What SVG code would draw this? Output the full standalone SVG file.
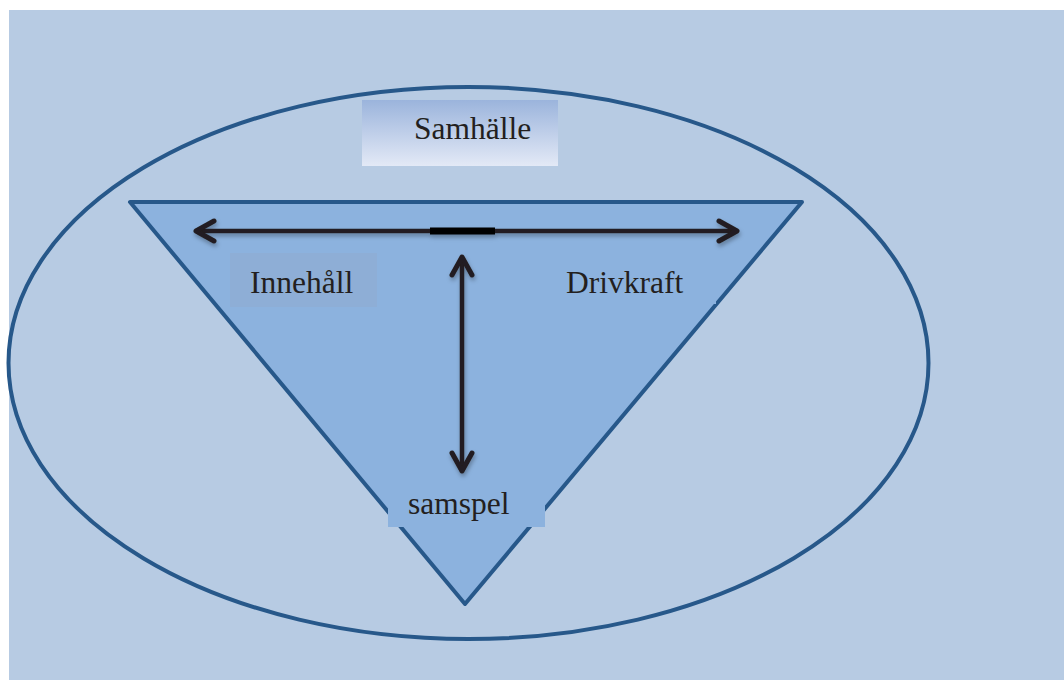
<svg xmlns="http://www.w3.org/2000/svg" width="1064" height="680" viewBox="0 0 1064 680">
<defs>
<linearGradient id="g1" x1="0" y1="0" x2="0" y2="1"><stop offset="0" stop-color="#9bb4dc"/><stop offset="1" stop-color="#e3e9f6"/></linearGradient>
<filter id="sh" x="-10%" y="-10%" width="120%" height="130%"><feDropShadow dx="1" dy="3" stdDeviation="2" flood-color="#000" flood-opacity="0.3"/></filter>
<marker id="ah" viewBox="0 0 26 26" refX="22" refY="13" markerWidth="26" markerHeight="26" markerUnits="userSpaceOnUse" orient="auto-start-reverse"><path d="M4,3 L22,13 L4,23" fill="none" stroke="#231f20" stroke-width="5" stroke-linecap="round" stroke-linejoin="round"/></marker>
</defs>
<style>
.t{font-family:"Liberation Serif","Times New Roman",serif;font-size:31.5px;fill:#231f20}
.c{stroke:#231f20;stroke-width:4.5;fill:none}
</style>
<rect x="0" y="0" width="1064" height="680" fill="#ffffff"/>
<rect x="9" y="10" width="1055" height="670" fill="#b7cbe3"/>
<g id="ellipse"><ellipse cx="468.5" cy="363" rx="460" ry="276" fill="none" stroke="#27588a" stroke-width="4"/></g>
<g id="triangle"><polygon points="130,202 802,202 465,604" fill="#8cb2de" stroke="#27588a" stroke-width="4" stroke-linejoin="round"/></g>
<g id="samhalle"><rect x="362" y="100" width="196" height="66" fill="url(#g1)"/><text class="t" x="414" y="139">Samhälle</text></g>
<g id="innehall"><rect x="230" y="253" width="147" height="54" fill="#8eaed6"/><text class="t" x="250" y="293">Innehåll</text></g>
<g id="drivkraft"><rect x="546" y="254" width="170" height="50" fill="#8cb2de"/><text class="t" x="566" y="293">Drivkraft</text></g>
<g id="samspel"><rect x="388" y="488" width="157" height="39" fill="#8cb2de"/><text class="t" x="408" y="514">samspel</text></g>
<g id="connectors" filter="url(#sh)">
<line class="c" x1="196" y1="231" x2="737" y2="231" marker-start="url(#ah)" marker-end="url(#ah)"/>
<line x1="430" y1="231" x2="495" y2="231" stroke="#000" stroke-width="7"/>
<line class="c" x1="462" y1="257" x2="462" y2="471" marker-start="url(#ah)" marker-end="url(#ah)"/>
</g>
</svg>
